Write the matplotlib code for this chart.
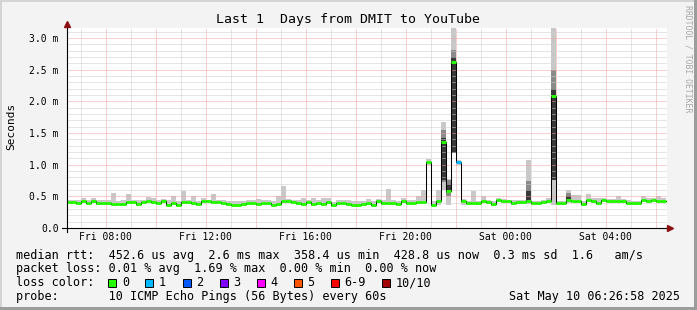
import numpy as np
import pandas as pd
import matplotlib
matplotlib.use('Agg')
import matplotlib.pyplot as plt
import matplotlib.dates as mdates
from matplotlib.patches import Rectangle

W, H = 697, 310
MONO = 'DejaVu Sans Mono'

# median rtt per 12 min step (ms), Fri 06:24 -> Sat 06:24
median_ms = [
    0.41, 0.41, 0.39, 0.42, 0.40, 0.42, 0.40, 0.40, 0.40, 0.38,
    0.38, 0.38, 0.41, 0.41, 0.38, 0.41, 0.43, 0.41, 0.40, 0.42,
    0.37, 0.40, 0.37, 0.41, 0.41, 0.40, 0.38, 0.42, 0.42, 0.41,
    0.41, 0.40, 0.38, 0.37, 0.37, 0.38, 0.40, 0.40, 0.38, 0.40,
    0.40, 0.37, 0.38, 0.42, 0.43, 0.41, 0.40, 0.38, 0.41, 0.38,
    0.40, 0.38, 0.41, 0.36, 0.40, 0.40, 0.38, 0.37, 0.37, 0.38,
    0.40, 0.37, 0.42, 0.40, 0.40, 0.40, 0.38, 0.42, 0.40, 0.39,
    0.41, 0.41, 1.04, 0.37, 0.43, 1.36, 0.58, 2.63, 1.04, 0.42,
    0.39, 0.39, 0.39, 0.43, 0.41, 0.38, 0.44, 0.42, 0.42, 0.40,
    0.41, 0.41, 0.42, 0.39, 0.39, 0.41, 0.43, 2.08, 0.39, 0.39,
    0.44, 0.42, 0.42, 0.38, 0.44, 0.43, 0.40, 0.44, 0.42, 0.42,
    0.43, 0.42, 0.40, 0.39, 0.39, 0.44, 0.43, 0.44, 0.43, 0.43,
]
# smoke (min / max ping) per step
smoke_lo = [
    0.38, 0.38, 0.36, 0.39, 0.37, 0.39, 0.37, 0.37, 0.37, 0.35,
    0.35, 0.35, 0.38, 0.38, 0.35, 0.38, 0.40, 0.38, 0.37, 0.39,
    0.34, 0.37, 0.34, 0.38, 0.38, 0.37, 0.35, 0.39, 0.39, 0.38,
    0.38, 0.37, 0.35, 0.34, 0.34, 0.35, 0.37, 0.37, 0.35, 0.37,
    0.37, 0.34, 0.35, 0.39, 0.40, 0.38, 0.37, 0.35, 0.38, 0.35,
    0.37, 0.35, 0.38, 0.33, 0.37, 0.37, 0.35, 0.34, 0.34, 0.35,
    0.37, 0.34, 0.39, 0.37, 0.37, 0.37, 0.35, 0.39, 0.37, 0.36,
    0.38, 0.38, 1.00, 0.34, 0.36, 0.60, 0.37, 1.19, 1.00, 0.36,
    0.36, 0.36, 0.36, 0.40, 0.38, 0.35, 0.41, 0.39, 0.39, 0.37,
    0.38, 0.38, 0.38, 0.36, 0.36, 0.38, 0.40, 0.36, 0.36, 0.36,
    0.40, 0.39, 0.39, 0.35, 0.41, 0.40, 0.37, 0.41, 0.39, 0.39,
    0.40, 0.39, 0.37, 0.36, 0.36, 0.41, 0.40, 0.41, 0.40, 0.40,
]
smoke_hi = [
    0.45, 0.45, 0.44, 0.48, 0.44, 0.48, 0.44, 0.44, 0.44, 0.56,
    0.42, 0.44, 0.54, 0.45, 0.44, 0.45, 0.49, 0.47, 0.44, 0.46,
    0.44, 0.50, 0.42, 0.58, 0.45, 0.50, 0.43, 0.48, 0.45, 0.54,
    0.45, 0.44, 0.42, 0.42, 0.42, 0.43, 0.44, 0.45, 0.46, 0.44,
    0.44, 0.42, 0.51, 0.67, 0.46, 0.45, 0.45, 0.48, 0.45, 0.48,
    0.44, 0.48, 0.48, 0.41, 0.45, 0.45, 0.45, 0.42, 0.42, 0.43,
    0.46, 0.42, 0.46, 0.44, 0.62, 0.44, 0.43, 0.47, 0.44, 0.44,
    0.50, 0.60, 1.09, 0.42, 0.60, 1.68, 0.78, 3.16, 1.07, 0.46,
    0.43, 0.58, 0.43, 0.51, 0.45, 0.42, 0.47, 0.46, 0.45, 0.44,
    0.45, 0.45, 1.08, 0.43, 0.43, 0.45, 0.47, 3.16, 0.42, 0.42,
    0.60, 0.52, 0.52, 0.42, 0.54, 0.48, 0.48, 0.47, 0.46, 0.46,
    0.51, 0.46, 0.44, 0.43, 0.43, 0.50, 0.47, 0.47, 0.50, 0.47,
]
# denser smoke inside the spikes
dense_steps = [75, 76, 77, 92, 97, 100]
mid_lo = [0.72, 0.50, 1.19, 0.42, 0.76, 0.42]
mid_hi = [1.55, 0.76, 2.82, 0.74, 2.49, 0.55]
dark_lo = [0.76, 0.55, 1.19, 0.42, 0.76, 0.44]
dark_hi = [1.42, 0.70, 2.70, 0.60, 2.19, 0.50]
# steps with lost pings
lossy_steps = [78]
lossy_pings = [1]

loss_labels = ['0', '1', '2', '3', '4', '5', '6-9', '10/10']
loss_colors = ['#26ff00', '#00b8ff', '#0059ff', '#7e00ff',
               '#ff00ff', '#ff5500', '#ff0000', '#a10000']

y_ticks = [0.0, 0.5, 1.0, 1.5, 2.0, 2.5, 3.0]
y_labels = ['0.0', '0.5 m', '1.0 m', '1.5 m', '2.0 m', '2.5 m', '3.0 m']

t_end = pd.Timestamp('2025-05-10 06:26:58')
t_begin = t_end - pd.Timedelta(days=1)

fig = plt.figure(figsize=(W / 100, H / 100), dpi=100, facecolor='#f3f3f3')
ax = fig.add_axes([67 / W, (H - 228) / H, 600 / W, 200 / H])
ax.set_facecolor('white')

edges = pd.date_range('2025-05-09 06:24', periods=len(median_ms) + 1, freq='12min')
ex = mdates.date2num(edges.to_pydatetime())
left, right = ex[:-1], ex[1:]
width = right - left

med = np.array(median_ms)
lo = np.array(smoke_lo)
hi = np.array(smoke_hi)

# smoke
ax.fill_between(ex, np.append(lo, lo[-1]), np.append(hi, hi[-1]), step='post',
                color='#c8c8c8', lw=0, zorder=1)
ds = np.array(dense_steps)
ax.bar(left[ds], np.array(mid_hi) - np.array(mid_lo), width=width[ds], bottom=mid_lo,
       align='edge', color='#8a8a8a', lw=0, zorder=1.1)
ax.bar(left[ds], np.array(dark_hi) - np.array(dark_lo), width=width[ds], bottom=dark_lo,
       align='edge', color='#383838', lw=0, zorder=1.2)

# grid
red, gray = '#f5a0a0', '#cdcdcd'
for h in pd.date_range(t_begin.ceil('h'), t_end.floor('h'), freq='h'):
    c = red if h.hour % 2 == 0 else gray
    ax.axvline(mdates.date2num(h), color=c, lw=0.72, ls=(0, (1, 1)), zorder=2)
for i in range(1, 32):
    c = red if i % 5 == 0 else gray
    ax.axhline(i / 10, color=c, lw=0.72, ls=(0, (1, 1)), zorder=2)

# median line coloured by loss
seg_colors = [loss_colors[0]] * len(med)
for s, n in zip(lossy_steps, lossy_pings):
    seg_colors[s] = loss_colors[n]
ax.step(ex, np.append(med, med[-1]), where='post', color='black', lw=0.75, zorder=3)
ax.hlines(med, left, right, colors=seg_colors, lw=2.1, zorder=4)

ax.set_xlim(mdates.date2num(t_begin), mdates.date2num(t_end))
ax.set_ylim(0, 3.16)
for sp in ax.spines.values():
    sp.set_visible(False)

# axes with arrows
ax.plot([-5 / 600, 1.0], [0, 0], transform=ax.transAxes, color='black', lw=0.8,
        clip_on=False, zorder=5)
ax.plot([1 + 3 / 600], [0], marker='>', ms=4.5, color='#8b1010', transform=ax.transAxes,
        clip_on=False, zorder=6)
ax.plot([0, 0], [-4 / 200, 1 + 2 / 200], transform=ax.transAxes, color='black', lw=0.8,
        clip_on=False, zorder=5)
ax.plot([0], [1 + 4 / 200], marker='^', ms=4.5, color='#8b1010', transform=ax.transAxes,
        clip_on=False, zorder=6)

xt = pd.date_range('2025-05-09 08:00', periods=6, freq='4h')
ax.set_xticks(mdates.date2num(xt.to_pydatetime()))
ax.set_xticklabels([t.strftime('%a %H:%M') for t in xt], family=MONO, fontsize=7)
ax.set_yticks(y_ticks)
ax.set_yticklabels(y_labels, family=MONO, fontsize=7)
ax.tick_params(axis='x', length=0, pad=3)
ax.tick_params(axis='y', length=0, pad=6)


def ftext(x, y, s, **kw):
    kw.setdefault('family', MONO)
    kw.setdefault('fontsize', 8.5)
    kw.setdefault('va', 'center')
    fig.text(x / W, 1 - y / H, s, **kw)


ftext(348, 19, 'Last 1  Days from DMIT to YouTube', fontsize=9.5, ha='center')
ftext(11, 126, 'Seconds', rotation=90, ha='center', fontsize=8)
ftext(688, 5, 'RRDTOOL / TOBI OETIKER', rotation=270, ha='center', va='top',
      fontsize=5.9, color='#a8a8a8')

ftext(16, 255, 'median rtt:  452.6 us avg  2.6 ms max  358.4 us min  '
               '428.8 us now  0.3 ms sd  1.6   am/s')
ftext(16, 268.5, 'packet loss: 0.01 % avg  1.69 % max  0.00 % min  0.00 % now')
ftext(16, 282.5, 'loss color:')
box_x = [108, 145, 182.5, 219.5, 256.5, 293.5, 330.5, 381.5]
for bx, lab, col in zip(box_x, loss_labels, loss_colors):
    fig.patches.append(Rectangle((bx / W, 1 - 287 / H), 8 / W, 8 / H, transform=fig.transFigure,
                                 facecolor=col, edgecolor='black', lw=0.7))
    ftext(bx + 14, 282.5, lab)
ftext(16, 296.5, 'probe:       10 ICMP Echo Pings (56 Bytes) every 60s')
ftext(680, 296.5, 'Sat May 10 06:26:58 2025', ha='right')

# 3d frame
fig.patches.append(Rectangle((0, 1 - 2 / H), 1, 2 / H, transform=fig.transFigure,
                             facecolor='#d4d4d4', lw=0))
fig.patches.append(Rectangle((0, 0), 2 / W, 1, transform=fig.transFigure,
                             facecolor='#d4d4d4', lw=0))
fig.patches.append(Rectangle((0, 0), 1, 3 / H, transform=fig.transFigure,
                             facecolor='#9c9c9c', lw=0))
fig.patches.append(Rectangle((1 - 3 / W, 0), 3 / W, 1, transform=fig.transFigure,
                             facecolor='#9c9c9c', lw=0))

fig.savefig('out.png', dpi=100, facecolor=fig.get_facecolor())
